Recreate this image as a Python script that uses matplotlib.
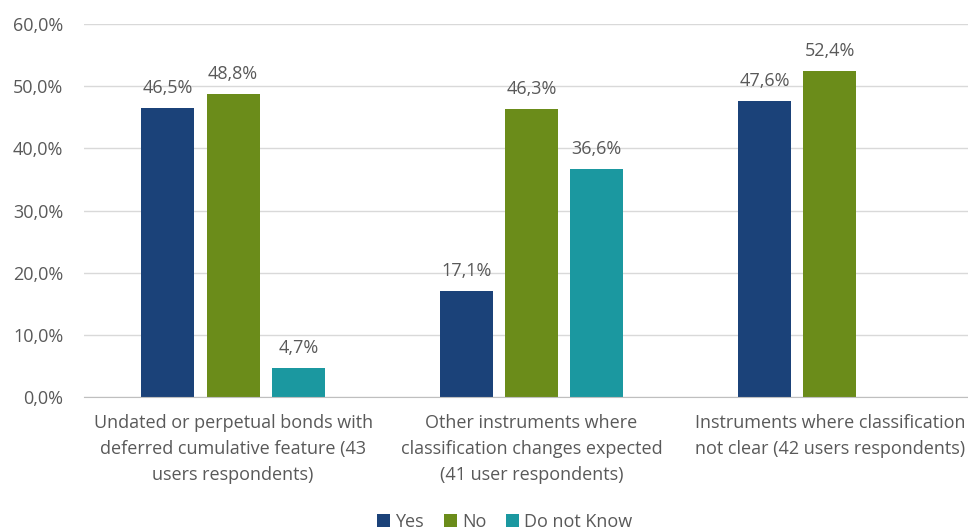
import matplotlib
matplotlib.use("Agg")
import matplotlib.pyplot as plt
import numpy as np

categories = [
    "Undated or perpetual bonds with\ndeferred cumulative feature (43\nusers respondents)",
    "Other instruments where\nclassification changes expected\n(41 user respondents)",
    "Instruments where classification\nnot clear (42 users respondents)",
]
series_names = ["Yes", "No", "Do not Know"]
yes_vals = [46.5, 17.1, 47.6]
no_vals = [48.8, 46.3, 52.4]
dnk_vals = [4.7, 36.6, None]
yticks = [0, 10, 20, 30, 40, 50, 60]

colors = ["#1B4279", "#6B8C1A", "#1B98A0"]
text_color = "#595959"

plt.rcParams['font.family'] = ['Open Sans', 'DejaVu Sans']
FS = 13

fig = plt.figure(figsize=(9.68, 5.30), dpi=100)
ax = fig.add_axes([84/968, (530-397)/530, (979-84)/968, (397-24)/530])

x = np.arange(len(categories))
offset = 0.219
width = 0.178
all_series = [yes_vals, no_vals, dnk_vals]
for i, (name, vals, c) in enumerate(zip(series_names, all_series, colors)):
    xs = []
    hs = []
    for j, v in enumerate(vals):
        if v is not None:
            xs.append(x[j] + (i - 1) * offset)
            hs.append(v)
    bars = ax.bar(xs, hs, width=width, color=c, label=name, zorder=3)
    for b, v in zip(bars, hs):
        ax.annotate(f"{v:.1f}%".replace(".", ","),
                    (b.get_x() + b.get_width()/2, v),
                    xytext=(0, 8), textcoords="offset points",
                    ha="center", va="bottom", fontsize=FS, color=text_color)

ax.set_xlim(-0.5, 2.5)
ax.set_ylim(0, 60)
ax.set_yticks(yticks)
ax.set_yticklabels([f"{t:.1f}%".replace(".", ",") for t in yticks], fontsize=FS, color=text_color)
ax.set_xticks(x)
ax.set_xticklabels(categories, fontsize=FS, color=text_color, linespacing=1.57, va="top")
ax.tick_params(axis="both", length=0)
ax.tick_params(axis="x", pad=12)
ax.tick_params(axis="y", pad=15)
ax.grid(axis="y", color="#D9D9D9", linewidth=1, zorder=0)
for s in ["top", "right", "left"]:
    ax.spines[s].set_visible(False)
ax.spines["bottom"].set_color("#BFBFBF")
ax.spines["bottom"].set_zorder(4)

leg = fig.legend(loc="center", bbox_to_anchor=(505/968, 1 - 522/530), ncol=3, frameon=False,
                 fontsize=FS, handlelength=0.7, handleheight=0.7, handletextpad=0.3,
                 columnspacing=1.1)
for t in leg.get_texts():
    t.set_color(text_color)

fig.savefig("out.png", dpi=100)
